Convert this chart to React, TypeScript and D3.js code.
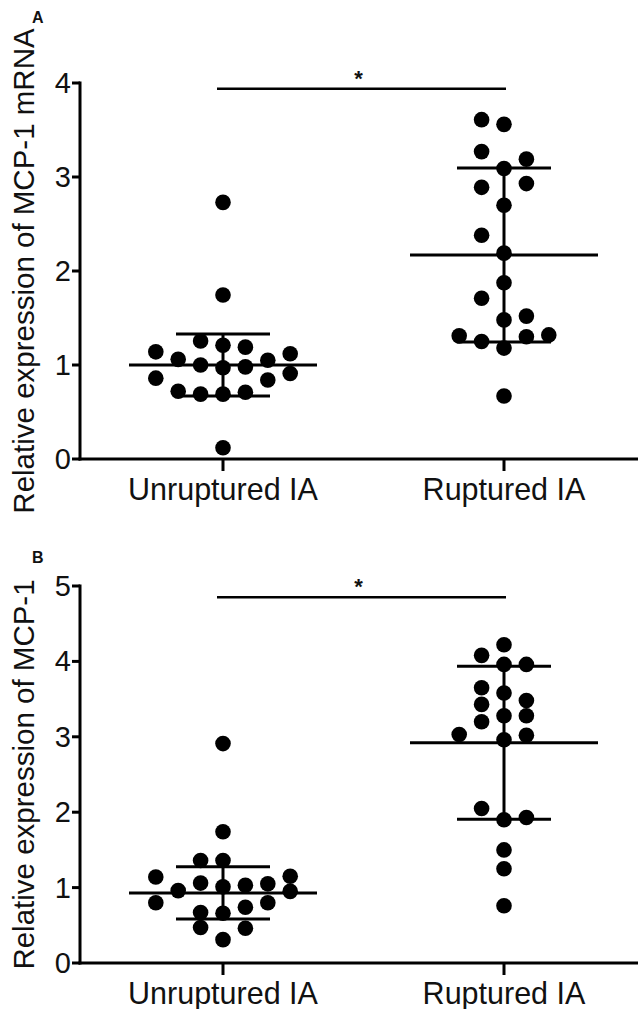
import React from "react";
import * as d3 from "d3";

// ---------- data ----------
const categories = ["Unruptured IA", "Ruptured IA"];

// Panel A: relative expression of MCP-1 mRNA
const mrnaUnruptured = [0.69, 0.69, 0.71, 0.72, 0.97, 1.0, 0.98, 1.06, 1.05, 0.84, 0.86, 0.91, 1.14, 1.12, 1.21, 1.255, 1.19, 1.745, 2.73, 0.12];
const mrnaRuptured = [3.56, 3.61, 3.09, 3.27, 3.19, 2.7, 2.89, 2.93, 2.19, 2.38, 1.875, 1.71, 1.48, 1.52, 1.18, 1.25, 1.3, 1.31, 1.32, 0.67];
const mrnaMean = [1.0, 2.17];
const mrnaSD = [0.33, 0.925];
const mrnaTicks = [0, 1, 2, 3, 4];
const mrnaSigLevel = 3.94;

// Panel B: relative expression of MCP-1 (protein)
const protUnruptured = [0.31, 0.47, 0.46, 0.66, 0.67, 0.74, 1.01, 1.06, 1.03, 0.96, 1.05, 0.8, 0.8, 0.95, 1.14, 1.15, 1.36, 1.36, 1.74, 2.91];
const protRuptured = [3.96, 4.08, 3.96, 4.22, 3.58, 3.65, 3.43, 3.48, 3.28, 3.28, 3.2, 2.96, 3.02, 3.03, 1.9, 2.05, 1.93, 1.25, 1.5, 0.76];
const protMean = [0.93, 2.92];
const protSD = [0.345, 1.015];
const protTicks = [0, 1, 2, 3, 4, 5];
const protSigLevel = 4.85;

// ---------- layout ----------
const W = 641;
const H = 1009;
const AXIS_X = 80;
const AXIS_RIGHT = 638;
const FONT = "'Liberation Sans', Arial, Helvetica, sans-serif";
const DOT_R = 7.8;
const SLOT = 22.4;
const MIN_GAP = 0.195; // data units, beeswarm collision

const x = d3.scalePoint<string>().domain(categories).range([223, 504]);

function swarm(values: number[], y: d3.ScaleLinear<number, number>) {
  const prefs = [0, -1, 1, -2, 2, -3, 3, -4, 4, -5, 5];
  const placed: { slot: number; v: number }[] = [];
  return values.map((v) => {
    for (const s of prefs) {
      if (!placed.some((p) => p.slot === s && Math.abs(p.v - v) < MIN_GAP)) {
        placed.push({ slot: s, v });
        return { v, slot: s, py: y(v) };
      }
    }
    return { v, slot: 0, py: y(v) };
  });
}

type PanelProps = {
  letter: string;
  letterY: number;
  yLabel: string;
  groups: number[][];
  means: number[];
  sds: number[];
  ticks: number[];
  range: [number, number];
  sigLevel: number;
};

function Panel({ letter, letterY, yLabel, groups, means, sds, ticks, range, sigLevel }: PanelProps) {
  const yMax = ticks[ticks.length - 1];
  const y = d3.scaleLinear().domain([0, yMax]).range(range);
  const y0 = y(0);
  const midY = (y(0) + y(yMax)) / 2;
  const sigY = y(sigLevel);
  const x0 = x(categories[0])!;
  const x1 = x(categories[1])!;
  return (
    <g>
      <text x={32} y={letterY} fontFamily={FONT} fontWeight="bold" fontSize={16} fill="#111">
        {letter}
      </text>
      {/* y axis label */}
      <text
        transform={`translate(34,${midY}) rotate(-90)`}
        textAnchor="middle"
        fontFamily={FONT}
        fontSize={29.5}
        fill="#111"
      >
        {yLabel}
      </text>
      {/* axes */}
      <line x1={AXIS_X} x2={AXIS_X} y1={y(yMax) - 1.5} y2={y0 + 1.5} stroke="#000" strokeWidth={3} />
      <line x1={AXIS_X - 1.5} x2={AXIS_RIGHT} y1={y0} y2={y0} stroke="#000" strokeWidth={3} />
      {ticks.map((t) => (
        <g key={t}>
          <line x1={AXIS_X - 8} x2={AXIS_X} y1={y(t)} y2={y(t)} stroke="#000" strokeWidth={3} />
          <text
            x={AXIS_X - 9}
            y={y(t)}
            textAnchor="end"
            dominantBaseline="central"
            fontFamily={FONT}
            fontSize={29}
            fill="#111"
          >
            {t}
          </text>
        </g>
      ))}
      {categories.map((c) => (
        <g key={c}>
          <line x1={x(c)} x2={x(c)} y1={y0} y2={y0 + 12} stroke="#000" strokeWidth={3} />
          <text x={x(c)} y={y0 + 41} textAnchor="middle" fontFamily={FONT} fontSize={30.5} fill="#111">
            {c}
          </text>
        </g>
      ))}
      {/* significance bar */}
      <line x1={x0 - 6} x2={x1 + 2} y1={sigY} y2={sigY} stroke="#000" strokeWidth={2.5} />
      <text
        x={(x0 + x1) / 2 - 5}
        y={sigY - 3}
        textAnchor="middle"
        fontFamily={FONT}
        fontWeight="bold"
        fontSize={22}
        fill="#111"
      >
        *
      </text>
      {/* dots */}
      {groups.map((vals, gi) => {
        const cx = x(categories[gi])!;
        return swarm(vals, y).map((p, i) => (
          <circle key={`${gi}-${i}`} cx={cx + p.slot * SLOT} cy={p.py} r={DOT_R} fill="#000" />
        ));
      })}
      {/* mean and SD */}
      {categories.map((c, gi) => {
        const cx = x(c)!;
        const m = means[gi];
        const s = sds[gi];
        return (
          <g key={`ms-${c}`} stroke="#000" strokeWidth={3}>
            <line x1={cx - 94} x2={cx + 94} y1={y(m)} y2={y(m)} />
            <line x1={cx - 47} x2={cx + 47} y1={y(m + s)} y2={y(m + s)} />
            <line x1={cx - 47} x2={cx + 47} y1={y(m - s)} y2={y(m - s)} />
            <line x1={cx} x2={cx} y1={y(m + s)} y2={y(m - s)} />
          </g>
        );
      })}
    </g>
  );
}

export default function App() {
  return (
    <svg
      width={W}
      height={H}
      viewBox={`0 0 ${W} ${H}`}
      style={{ position: "absolute", left: 0, top: 0, background: "#fff" }}
    >
      <rect x={0} y={0} width={W} height={H} fill="#fff" />
      <Panel
        letter="A"
        letterY={23}
        yLabel="Relative expression of MCP-1 mRNA"
        groups={[mrnaUnruptured, mrnaRuptured]}
        means={mrnaMean}
        sds={mrnaSD}
        ticks={mrnaTicks}
        range={[459, 83]}
        sigLevel={mrnaSigLevel}
      />
      <Panel
        letter="B"
        letterY={563}
        yLabel="Relative expression of MCP-1"
        groups={[protUnruptured, protRuptured]}
        means={protMean}
        sds={protSD}
        ticks={protTicks}
        range={[963, 586]}
        sigLevel={protSigLevel}
      />
    </svg>
  );
}
